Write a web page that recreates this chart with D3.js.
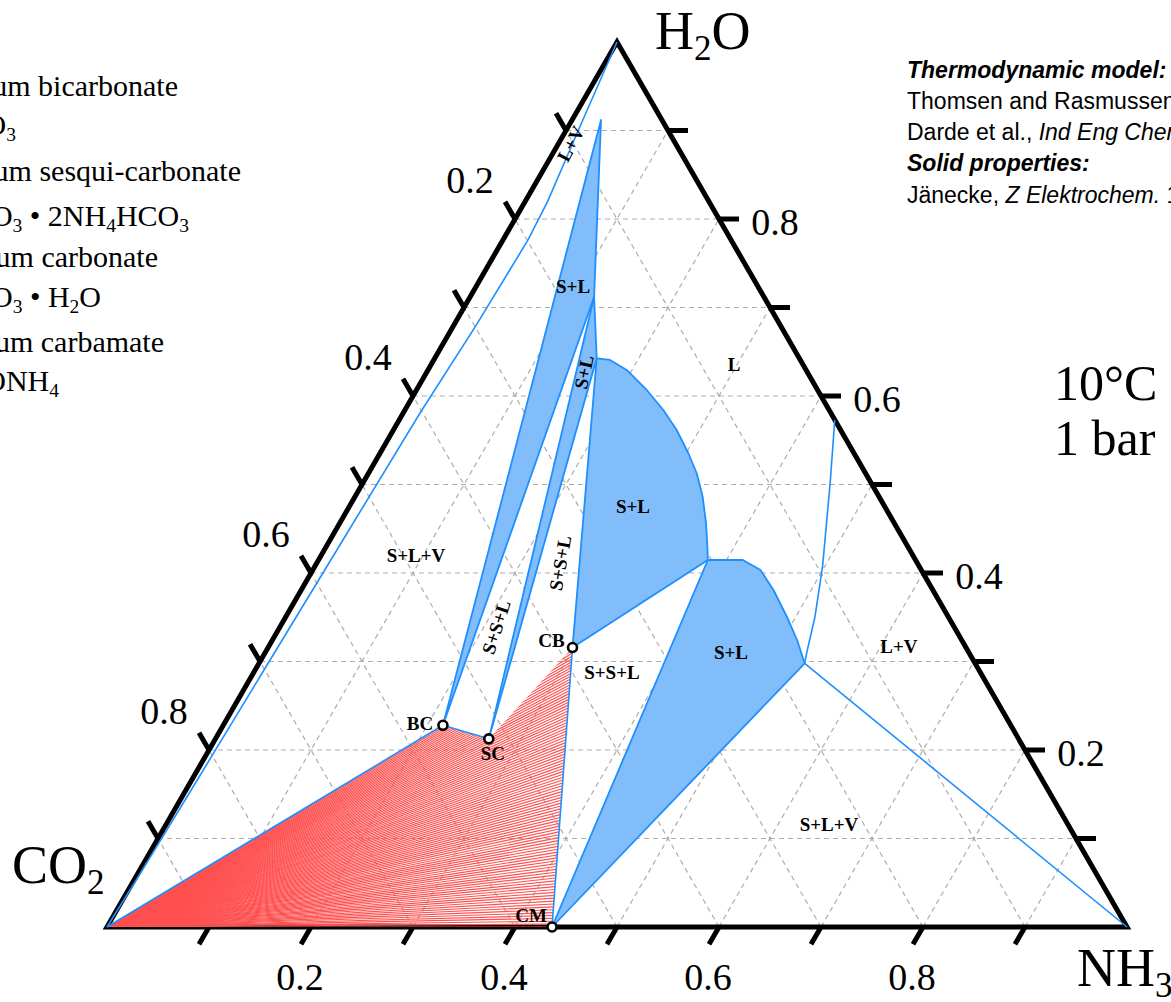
<!DOCTYPE html>
<html>
<head>
<meta charset="utf-8">
<script src="https://cdn.jsdelivr.net/npm/d3@7"></script>
<style>
  body { margin: 0; background: #fff; overflow: hidden; }
  svg { display: block; }
</style>
</head>
<body>
<div id="graphic"></div>
<script>
// all compositions are mass fractions [NH3, H2O], CO2 = 1 - NH3 - H2O

const solids = [
  { name: "BC", nh3: 0.2154, h2o: 0.2279 },
  { name: "SC", nh3: 0.2680, h2o: 0.2126 },
  { name: "CB", nh3: 0.2985, h2o: 0.3158 },
  { name: "CM", nh3: 0.4363, h2o: 0.0 }
];

// liquid saturated with BC / SC
const liqBC = [[0.0284, 0.9119], [0.1216, 0.7119]];
const liqSC = [[0.1216, 0.7119], [0.1588, 0.6426]];
// liquid saturated with CB
const liqCB = [[0.1588, 0.6426], [0.1728, 0.6407], [0.1948, 0.6294], [0.2257, 0.6068],
  [0.2533, 0.5842], [0.2777, 0.5616], [0.3023, 0.5353], [0.3218, 0.5127],
  [0.3409, 0.4862], [0.3592, 0.4562], [0.3717, 0.4336], [0.3817, 0.4147]];
// liquid saturated with CM
const liqCM = [[0.3817, 0.4147], [0.416, 0.4147], [0.439, 0.4034], [0.463, 0.3808],
  [0.4915, 0.3503], [0.5144, 0.3243], [0.535, 0.298]];
// vapour-liquid boundaries
const vlLeft = [[0, 1], [0.012, 0.9], [0.022, 0.82], [0.0246, 0.7763], [0.022, 0.68],
  [0.0165, 0.5808], [0.013, 0.45], [0.009, 0.3], [0.005, 0.15], [0.002, 0.05], [0, 0]];
const vlRight = [[0.427, 0.573], [0.458, 0.502], [0.498, 0.407], [0.519, 0.35],
  [0.531, 0.31], [0.535, 0.298]];
const vlTie = [[0.535, 0.298], [1, 0]];

const tickValues = [0.1, 0.2, 0.3, 0.4, 0.5, 0.6, 0.7, 0.8, 0.9];
const tickLabels = ["0.2", "0.4", "0.6", "0.8"];

const regionLabels = [
  { text: "L+V", nh3: 0.012, h2o: 0.885, rot: -62 },
  { text: "S+L", nh3: 0.0948, h2o: 0.7243, rot: 0 },
  { text: "S+L", nh3: 0.154, h2o: 0.6271, rot: -78 },
  { text: "L", nh3: 0.2966, h2o: 0.6362, rot: 0 },
  { text: "S+L", nh3: 0.2778, h2o: 0.4757, rot: 0 },
  { text: "S+L+V", nh3: 0.0928, h2o: 0.4203, rot: 0 },
  { text: "S+S+L", nh3: 0.2119, h2o: 0.339, rot: -72 },
  { text: "S+S+L", nh3: 0.2385, h2o: 0.4113, rot: -80 },
  { text: "S+S+L", nh3: 0.351, h2o: 0.2881, rot: 0 },
  { text: "S+L", nh3: 0.4564, h2o: 0.3107, rot: 0 },
  { text: "L+V", nh3: 0.6177, h2o: 0.3175, rot: 0 },
  { text: "S+L+V", nh3: 0.6496, h2o: 0.1164, rot: 0 }
];

const width = 1171, height = 1002;
const blue = "#1e8fff", blueFill = "rgb(128,189,250)";
const serif = "Liberation Serif, Times New Roman, serif";
const sans = "Liberation Sans, Arial, sans-serif";

const svg = d3.select("#graphic")
  .append("svg")
  .attr("width", width)
  .attr("height", height);

const x = d3.scaleLinear().domain([0, 1]).range([107, 1127]);
const y = d3.scaleLinear().domain([0, 1]).range([927, 42]);
const px = d => [x(d[0] + d[1] / 2), y(d[1])];
const line = d3.line().x(d => px(d)[0]).y(d => px(d)[1]);

const pt = s => [s.nh3, s.h2o];
const [BC, SC, CB, CM] = solids.map(pt);
const CO2 = [0, 0], H2O = [0, 1], NH3 = [1, 0];

// grid
const grid = svg.append("g")
  .attr("stroke", "#adadad")
  .attr("stroke-width", 1.2)
  .attr("stroke-dasharray", "5,4")
  .attr("fill", "none");
tickValues.forEach(v => {
  grid.append("path").attr("d", line([[0, v], [1 - v, v]]));
  grid.append("path").attr("d", line([[v, 0], [v, 1 - v]]));
  grid.append("path").attr("d", line([[1 - v, 0], [0, 1 - v]]));
});

// frame and ticks
const frame = svg.append("g").attr("stroke", "#000").attr("stroke-width", 5).attr("fill", "none");
frame.append("path").attr("d", line([CO2, NH3, H2O, CO2]) + "Z").attr("stroke-linejoin", "miter");
const tl = 20;
tickValues.forEach(v => {
  const b = px([v, 0]);
  frame.append("line").attr("x1", b[0]).attr("y1", b[1])
    .attr("x2", b[0] - tl * 0.5).attr("y2", b[1] + tl * 0.866);
  const r = px([1 - v, v]);
  frame.append("line").attr("x1", r[0]).attr("y1", r[1])
    .attr("x2", r[0] + tl).attr("y2", r[1]);
  const l = px([0, 1 - v]);
  frame.append("line").attr("x1", l[0]).attr("y1", l[1])
    .attr("x2", l[0] - tl * 0.5).attr("y2", l[1] - tl * 0.866);
});

// three-phase regions with vapour (CO2 corner): tie lines hatched in red,
// fanned from CO2 towards the CB-CM side and clipped to the region outline
const redArea = [CO2, BC, SC, CB, CM];
svg.append("clipPath").attr("id", "vclip")
  .append("path").attr("d", line(redArea) + "Z");
const pa = px(CB), pb = px(CM);
const steps = Math.round(Math.hypot(pb[0] - pa[0], pb[1] - pa[1]) / 2.9);
const fanEnds = d3.range(steps + 1).map(s => {
  const t = s / steps;
  return [CB[0] + (CM[0] - CB[0]) * t, CB[1] + (CM[1] - CB[1]) * t];
});
svg.append("g")
  .attr("clip-path", "url(#vclip)")
  .attr("stroke", "#ff5050")
  .attr("stroke-width", 1.15)
  .selectAll("path")
  .data(fanEnds)
  .join("path")
  .attr("d", d => line([CO2, d]));

// two-phase solid + liquid regions
const regions = [
  [BC].concat(liqBC),
  [SC].concat(liqSC),
  [CB].concat(liqCB),
  [CM].concat(liqCM)
];
svg.append("g")
  .selectAll("path")
  .data(regions)
  .join("path")
  .attr("d", d => line(d) + "Z")
  .attr("fill", blueFill)
  .attr("stroke", blue)
  .attr("stroke-width", 1.8)
  .attr("stroke-linejoin", "round");

// other phase boundaries
const bounds = [vlLeft, vlRight, vlTie, [CO2, BC], [BC, SC], [CB, CM]];
svg.append("g")
  .selectAll("path")
  .data(bounds)
  .join("path")
  .attr("d", d => line(d))
  .attr("fill", "none")
  .attr("stroke", blue)
  .attr("stroke-width", 1.6);

// solid markers
svg.append("g")
  .selectAll("circle")
  .data(solids)
  .join("circle")
  .attr("cx", d => px(pt(d))[0])
  .attr("cy", d => px(pt(d))[1])
  .attr("r", 4.5)
  .attr("fill", "#fff")
  .attr("stroke", "#000")
  .attr("stroke-width", 2.6);

const solidOffsets = { BC: [-23, -2], SC: [4, 15], CB: [-21, -7], CM: [-21, -12] };
svg.append("g")
  .selectAll("text")
  .data(solids)
  .join("text")
  .attr("x", d => px(pt(d))[0] + solidOffsets[d.name][0])
  .attr("y", d => px(pt(d))[1] + solidOffsets[d.name][1])
  .attr("dy", "0.35em")
  .attr("text-anchor", "middle")
  .attr("font-family", serif)
  .attr("font-weight", "bold")
  .attr("font-size", 19)
  .text(d => d.name);

svg.append("g")
  .selectAll("text")
  .data(regionLabels)
  .join("text")
  .attr("transform", d => {
    const p = px([d.nh3, d.h2o]);
    return `translate(${p[0]},${p[1]}) rotate(${d.rot})`;
  })
  .attr("dy", "0.35em")
  .attr("text-anchor", "middle")
  .attr("font-family", serif)
  .attr("font-weight", "bold")
  .attr("font-size", 19)
  .text(d => d.text);

// axis numbers
const axisText = svg.append("g").attr("font-family", serif).attr("font-size", 38).attr("text-anchor", "middle");
tickLabels.forEach(t => {
  const v = +t;
  const b = px([v, 0]);
  axisText.append("text").attr("x", b[0] - 11).attr("y", 990).text(t);
  const r = px([1 - v, v]);
  axisText.append("text").attr("x", r[0] + 56).attr("y", r[1] + 16).text(t);
  const l = px([0, 1 - v]);
  axisText.append("text").attr("x", l[0] - 45).attr("y", l[1] - 26).text(t);
});

// component names with subscripts
function formula(g, parts, attrs) {
  const t = g.append("text");
  Object.entries(attrs).forEach(([k, v]) => t.attr(k, v));
  let shifted = false;
  parts.forEach(p => {
    const sub = Array.isArray(p);
    const s = t.append("tspan").text(sub ? p[0] : p);
    if (sub) { s.attr("font-size", "0.65em").attr("dy", "0.3em"); shifted = true; }
    else if (shifted) { s.attr("dy", "-0.195em"); shifted = false; }
  });
  return t;
}
const big = svg.append("g").attr("font-family", serif).attr("font-size", 54);
formula(big, ["H", ["2"], "O"], { x: 655, y: 49 });
formula(big, ["CO", ["2"]], { x: 12, y: 883 });
formula(big, ["NH", ["3"]], { x: 1077, y: 986 });

const cond = svg.append("g").attr("font-family", serif).attr("font-size", 50);
cond.append("text").attr("x", 1054).attr("y", 400).text("10°C");
cond.append("text").attr("x", 1054).attr("y", 455).text("1 bar");

// legend of solids (runs off the left edge)
const leg = svg.append("g").attr("font-family", serif).attr("font-size", 30).attr("text-anchor", "end");
const legRows = [
  { parts: ["Ammonium bicarbonate"], x: 178, y: 96 },
  { parts: ["NH", ["4"], "HCO", ["3"]], x: 16, y: 135 },
  { parts: ["Ammonium sesqui-carbonate"], x: 241, y: 181 },
  { parts: ["(NH", ["4"], ")", ["2"], "CO", ["3"], " • 2NH", ["4"], "HCO", ["3"]], x: 189, y: 226 },
  { parts: ["Ammonium carbonate"], x: 158, y: 267 },
  { parts: ["(NH", ["4"], ")", ["2"], "CO", ["3"], " • H", ["2"], "O"], x: 101, y: 307 },
  { parts: ["Ammonium carbamate"], x: 164, y: 352 },
  { parts: ["NH", ["2"], "COONH", ["4"]], x: 59, y: 391 }
];
legRows.forEach(r => formula(leg, r.parts, { x: r.x, y: r.y }));

// references
const ref = svg.append("g").attr("font-family", sans).attr("font-size", 23);
ref.append("text").attr("x", 907).attr("y", 78)
  .attr("font-weight", "bold").attr("font-style", "italic").text("Thermodynamic model:");
ref.append("text").attr("x", 907).attr("y", 109).text("Thomsen and Rasmussen, Chem Eng Sci. 1999");
const darde = ref.append("text").attr("x", 907).attr("y", 140);
darde.append("tspan").text("Darde et al., ");
darde.append("tspan").attr("font-style", "italic").text("Ind Eng Chem Res");
darde.append("tspan").text(". 2010");
ref.append("text").attr("x", 907).attr("y", 171)
  .attr("font-weight", "bold").attr("font-style", "italic").text("Solid properties:");
const jan = ref.append("text").attr("x", 907).attr("y", 203);
jan.append("tspan").text("Jänecke, ");
jan.append("tspan").attr("font-style", "italic").text("Z Elektrochem.");
jan.append("tspan").text(" 1929");
</script>
</body>
</html>
